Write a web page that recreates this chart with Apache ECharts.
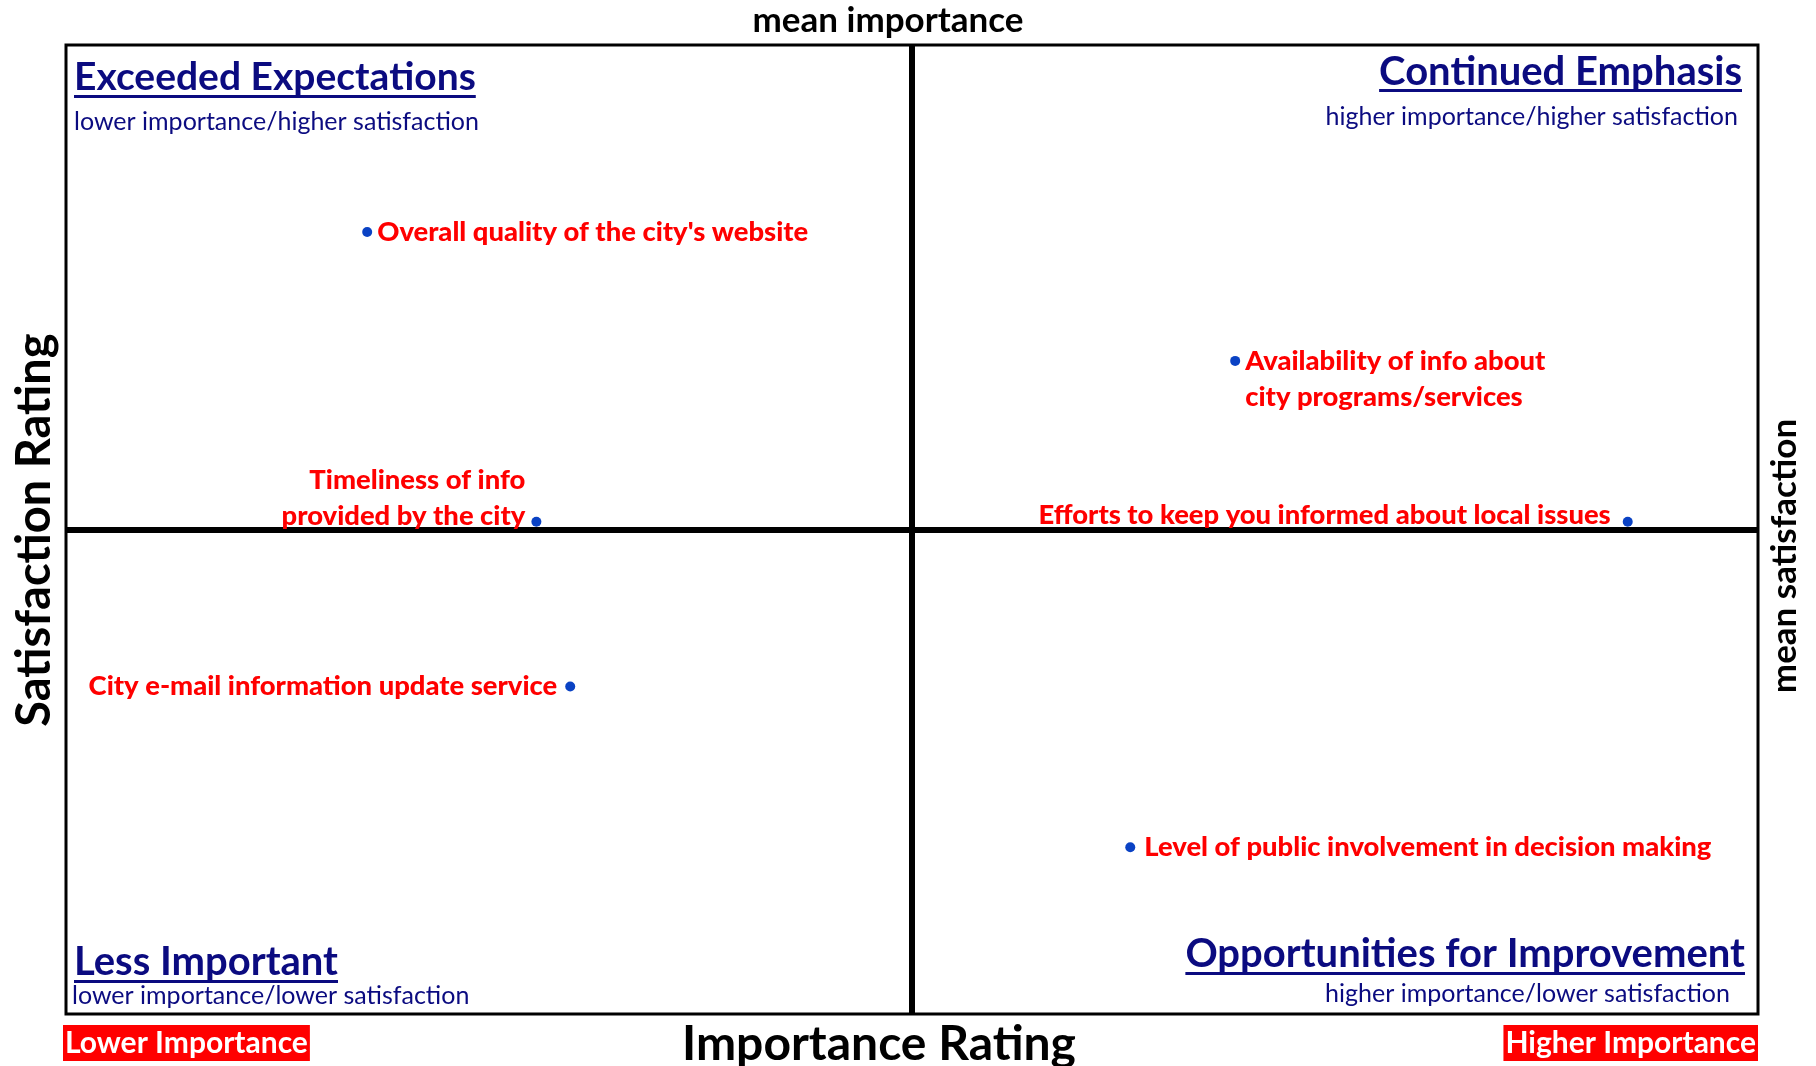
<!DOCTYPE html>
<html><head><meta charset="utf-8">
<script src="https://cdn.jsdelivr.net/npm/echarts@6/dist/echarts.min.js"></script>
<style>html,body{margin:0;padding:0;background:#fff}#chart{width:1816px;height:1066px}</style>
</head><body><div id="chart"></div>
<script>
// ---- data ----
const items = [
  "Overall quality of the city's website",
  "Availability of info about\ncity programs/services",
  "Timeliness of info\nprovided by the city",
  "Efforts to keep you informed about local issues",
  "City e-mail information update service",
  "Level of public involvement in decision making"
];
const importance   = [17.8, 69.1, 27.8, 92.3, 29.8, 62.9];
const satisfaction = [80.7, 67.4, 50.8, 50.8, 33.8, 17.2];
const meanImportance = 50;
const meanSatisfaction = 50;
const quadrantTitles = ["Exceeded Expectations", "Continued Emphasis", "Less Important", "Opportunities for Improvement"];
const quadrantSubtitles = ["lower importance/higher satisfaction", "higher importance/higher satisfaction", "lower importance/lower satisfaction", "higher importance/lower satisfaction"];
const axisTitles = { x: "Importance Rating", y: "Satisfaction Rating", meanX: "mean importance", meanY: "mean satisfaction" };
const endLabels = ["Lower Importance", "Higher Importance"];

// ---- styling / layout ----
const FONT = 'Lato, "Open Sans", sans-serif';
const NAVY = '#0b0b80';
const labelLayout = [
  { position: 'right', distance: 5, offset: [0, 0], align: 'left' },
  { position: 'right', distance: 5, offset: [0, 18], align: 'left' },
  { position: 'left', distance: 6, offset: [0, -24], align: 'right' },
  { position: 'left', distance: 12, offset: [0, -7], align: 'right' },
  { position: 'left', distance: 8, offset: [0, 0], align: 'right' },
  { position: 'right', distance: 9, offset: [0, 0], align: 'left' }
];

const chart = echarts.init(document.getElementById('chart'), null, { renderer: 'canvas' });

function measure(text, font) {
  const c = document.createElement('canvas').getContext('2d');
  c.font = font;
  return c.measureText(text).width;
}

function titleBlock(title, sub, x, yTitle, yUnder, ySub, xSub, align, size) {
  const tFont = 'bold ' + size + 'px ' + FONT;
  const sFont = '25px ' + FONT;
  const w = measure(title, tFont);
  const left = align === 'left' ? x : x - w;
  return [
    { type: 'text', x: x, y: yTitle, style: { text: title, font: tFont, fill: NAVY, align: align, verticalAlign: 'middle' } },
    { type: 'rect', shape: { x: left, y: yUnder, width: w, height: 3 }, style: { fill: NAVY } },
    { type: 'text', x: xSub, y: ySub, style: { text: sub, font: sFont, fill: NAVY, align: align, verticalAlign: 'middle' } }
  ];
}

function render() {
  const data = items.map((n, i) => {
    const L = labelLayout[i];
    return {
      name: n,
      value: [importance[i], satisfaction[i]],
      label: { position: L.position, distance: L.distance, offset: L.offset, align: L.align }
    };
  });

  const graphic = [].concat(
    titleBlock(quadrantTitles[0], quadrantSubtitles[0], 74, 77, 95, 122, 74, 'left', 39),
    titleBlock(quadrantTitles[1], quadrantSubtitles[1], 1742, 72, 89, 117, 1738, 'right', 40),
    titleBlock(quadrantTitles[2], quadrantSubtitles[2], 74, 962, 980, 996, 72, 'left', 40),
    titleBlock(quadrantTitles[3], quadrantSubtitles[3], 1745, 954, 972, 994, 1730, 'right', 40),
    [
      { type: 'text', x: 888, y: 21, style: { text: axisTitles.meanX, font: 'bold 35px ' + FONT, fill: '#000', align: 'center', verticalAlign: 'middle' } },
      { type: 'text', x: 879, y: 1045, style: { text: axisTitles.x, font: 'bold 48px ' + FONT, fill: '#000', align: 'center', verticalAlign: 'middle' } },
      { type: 'text', x: 35, y: 530, rotation: Math.PI / 2, style: { text: axisTitles.y, font: 'bold 47px ' + FONT, fill: '#000', align: 'center', verticalAlign: 'middle' } },
      { type: 'text', x: 1785, y: 556, rotation: Math.PI / 2, style: { text: axisTitles.meanY, font: 'bold 35px ' + FONT, fill: '#000', align: 'center', verticalAlign: 'middle' } },
      { type: 'text', x: 63, y: 1043, style: { text: endLabels[0], font: 'bold 30px ' + FONT, fill: '#fff', backgroundColor: '#ff0000', padding: [3, 2, 3, 2], align: 'left', verticalAlign: 'middle' } },
      { type: 'text', x: 1758, y: 1043, style: { text: endLabels[1], font: 'bold 30px ' + FONT, fill: '#fff', backgroundColor: '#ff0000', padding: [3, 2, 3, 2], align: 'right', verticalAlign: 'middle' } }
    ]
  );

  chart.setOption({
    animation: false,
    backgroundColor: '#fff',
    grid: { left: 66, right: 58, top: 45, bottom: 52, show: true, borderColor: '#000', borderWidth: 3, backgroundColor: 'transparent' },
    xAxis: { type: 'value', min: 0, max: 100, axisLine: { show: false }, axisTick: { show: false }, axisLabel: { show: false }, splitLine: { show: false } },
    yAxis: { type: 'value', min: 0, max: 100, axisLine: { show: false }, axisTick: { show: false }, axisLabel: { show: false }, splitLine: { show: false } },
    series: [{
      type: 'scatter',
      symbol: 'circle',
      symbolSize: 10,
      itemStyle: { color: '#0a42c4', opacity: 1 },
      z: 5,
      label: {
        show: true,
        formatter: '{b}',
        color: '#ff0000',
        fontFamily: FONT,
        fontWeight: 900,
        fontSize: 27.4,
        lineHeight: 36
      },
      emphasis: { disabled: true },
      data: data,
      markLine: {
        silent: true,
        symbol: 'none',
        label: { show: false },
        lineStyle: { color: '#000', width: 6, type: 'solid' },
        z: 3,
        data: [{ xAxis: meanImportance }, { yAxis: meanSatisfaction }]
      }
    }],
    graphic: graphic
  });
}

if (document.fonts && document.fonts.load) {
  Promise.all([document.fonts.load('bold 38px Lato'), document.fonts.load('25px Lato'), document.fonts.load('900 27px Lato')]).then(render, render);
} else { render(); }
</script></body></html>
